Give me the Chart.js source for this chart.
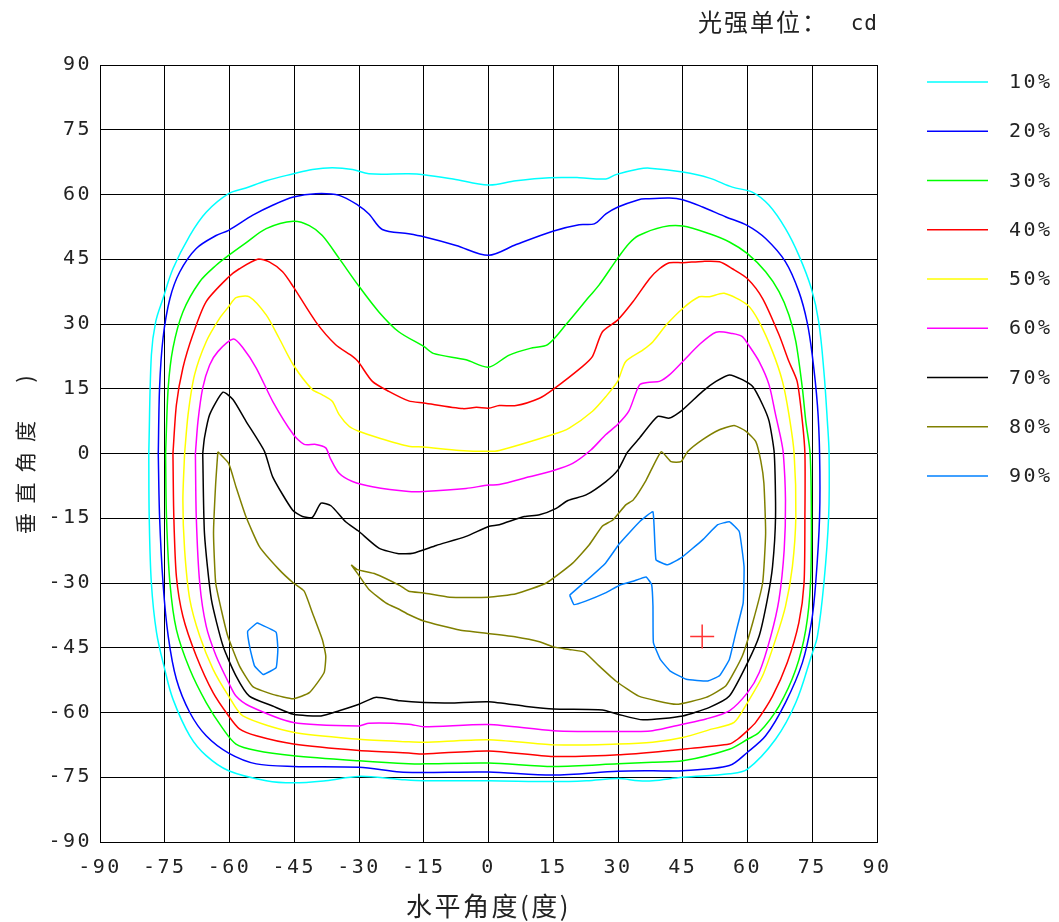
<!DOCTYPE html>
<html><head><meta charset="utf-8">
<script src="https://cdn.jsdelivr.net/npm/chart.js@4.4.1/dist/chart.umd.min.js"></script>
<style>html,body{margin:0;padding:0;background:#fff;}canvas{display:block;}</style>
</head><body>
<canvas id="c" width="1059" height="922" style="width:1059px;height:922px"></canvas>
<script>
const levelLabels = ['10%','20%','30%','40%','50%','60%','70%','80%','90%'];
const levelColors = ['#00ffff','#0000ff','#00ff00','#ff0000','#ffff00','#ff00ff','#000000','#808000','#0080ff'];
const axisTicks = [-90,-75,-60,-45,-30,-15,0,15,30,45,60,75,90];

const c10 = [[-78.7,0],[-78.1,22.8],[-77.1,30.5],[-75.4,35.9],[-73.1,42.8],[-69.2,50.5],[-65.4,55.9],[-60.2,60.2],[-56.2,61.5],[-51.5,63.2],[-45.2,64.8],[-40.8,65.8],[-36.2,66.2],[-31.5,65.8],[-27.7,64.8],[-18.5,64.8],[-15,64.6],[-8.2,63.6],[0,62.2],[6.4,63.2],[14.1,63.9],[21,63.9],[27.2,63.6],[29.5,64.6],[34.8,65.9],[37.3,66.1],[45,65.2],[51.2,63.8],[56.5,61.7],[61.2,60.5],[65,57.5],[68.8,52.1],[71.9,45.9],[74.8,38.2],[76.5,30.5],[77.7,19],[78.5,7.5],[78.9,0],[78.8,-14.6],[77.7,-30],[76.2,-42.3],[74.8,-46.9],[71.2,-57.7],[66.5,-66.2],[60,-73.1],[55.8,-74.2],[45,-75],[38,-75.8],[34.8,-75.8],[30,-75.3],[22.7,-75.8],[15,-76],[0,-75.8],[-15,-75.8],[-20.5,-75.5],[-30,-74.8],[-37.7,-75.8],[-45.2,-76.3],[-51.5,-75.8],[-60.2,-73.5],[-65.4,-70],[-69.2,-65.4],[-73.1,-56.9],[-75,-50],[-76.9,-41.5],[-78.1,-30],[-78.6,-14.6],[-78.7,0]];
const c20 = [[-76.5,0],[-76.2,15.2],[-75.4,26.7],[-73.8,35.9],[-71.5,42.1],[-67.7,47.5],[-63.1,50.5],[-60.2,51.7],[-54.6,55.2],[-50,57.5],[-45.2,59.4],[-40,60.2],[-34.6,59.8],[-30.2,57.5],[-27.7,55.5],[-24.6,51.9],[-18.5,50.9],[-15,50.2],[-7.5,48.2],[0,45.9],[6.4,48.4],[14.9,51.5],[21,53],[24.5,53.2],[27.2,55.5],[30,57.1],[34.8,58.8],[36.5,59],[41.9,59.2],[45,58.8],[49.6,57.1],[55,54.8],[60,52.8],[64.2,49.8],[68.8,44.4],[71.9,37.5],[73.8,30.5],[75,22.8],[76.2,11.2],[76.7,0],[76.7,-14.6],[75.8,-30],[74.8,-39.2],[72.7,-48.5],[68.8,-57.7],[64.2,-65.4],[60,-69.2],[55.8,-72.3],[45,-73.5],[38,-73.5],[30,-73.6],[15,-74.5],[0,-73.8],[-15,-73.9],[-20.5,-73.8],[-30,-72.7],[-45.2,-72.5],[-53.8,-71.9],[-60.2,-69.4],[-65.4,-65.4],[-69.2,-60],[-72.3,-52.3],[-74.2,-42.3],[-75.4,-30],[-76.2,-14.6],[-76.5,0]];
const c30 = [[-74.8,0],[-74.2,15.2],[-73.1,24.4],[-70.8,32.8],[-66.9,39.8],[-63.1,43.6],[-60.2,45.9],[-56.2,48.8],[-51.5,52.1],[-45.2,53.8],[-41.5,52.8],[-38.5,50.5],[-34.6,45.2],[-30.2,39],[-25.4,32.8],[-20.8,28.2],[-15,24.8],[-12.8,23.2],[-5.2,21.7],[0,20],[4.8,22.8],[10.2,24.5],[13.7,25.2],[17.9,29.8],[23.3,36.3],[25.6,39],[29.9,45.2],[32.5,48.6],[34.8,50.5],[40.4,52.5],[45,52.7],[51.2,50.9],[55.8,49],[60,46.3],[64.2,42.1],[67.3,37.5],[69.6,32.1],[71.2,25.9],[72.7,15.2],[73.5,7.5],[74.5,0],[74.8,-14.6],[74.6,-30],[73.5,-40.8],[71.2,-50],[67.3,-58.5],[62.7,-64.6],[60,-66.2],[55.8,-68.5],[45,-71.2],[38,-71.5],[30,-71.9],[15,-72.5],[0,-71.7],[-15,-71.9],[-18.5,-71.9],[-30,-71.2],[-45.2,-70],[-53.8,-68.8],[-58.5,-67.3],[-61.5,-63.8],[-65.4,-57.7],[-69.2,-50],[-72.3,-40.8],[-73.8,-30],[-74.6,-14.6],[-74.8,0]];
const c40 = [[-73.1,0],[-72.3,11.3],[-70.8,19.8],[-68.5,27.5],[-65.4,35.2],[-60.2,40.9],[-57.7,42.8],[-53.5,45],[-50.8,44.4],[-47.7,42.1],[-45.2,38.6],[-40,30.5],[-35.4,25.2],[-31.5,22.5],[-30.2,21.3],[-26.9,16.7],[-23.1,14.4],[-18.5,12.2],[-15,11.7],[-5.9,10.4],[-2.8,10.7],[0,10.5],[2.5,11.1],[6.4,11.1],[11.8,12.8],[14.9,14.8],[21.8,20.2],[24.1,22.5],[26.4,28.2],[29.9,30.9],[33.5,35.2],[37.3,40.5],[39.6,42.8],[41.9,44.2],[45,44.2],[49.6,44.5],[53.5,44.4],[56.5,42.8],[60,40.5],[63.5,35.9],[67.3,27.5],[69.6,21.3],[71.5,16.7],[72.7,7.5],[73.3,0],[73.3,-14.6],[73.1,-30],[71.9,-39.2],[69.2,-48.5],[65.8,-56.2],[61.9,-62.3],[60,-64.2],[57.7,-66.2],[55.8,-67.3],[45,-68.5],[38,-69.2],[30,-69.8],[15,-70.2],[0,-68.9],[-15,-69.6],[-18.5,-69.4],[-30,-68.8],[-45.2,-67.3],[-53.8,-65.4],[-57.7,-63.8],[-60.2,-60.8],[-63.8,-55.4],[-67.7,-46.9],[-70.8,-37.7],[-72.3,-28.5],[-72.9,-14.6],[-73.1,0]];
const c50 = [[-70.4,0],[-69.6,9],[-68.1,18.2],[-65.4,25.9],[-62.3,31.3],[-60.2,34],[-58.5,36.1],[-55.4,36.3],[-51.5,32.1],[-48.5,26.7],[-45.2,20.5],[-40.8,14.8],[-38.5,13.6],[-36.2,12.1],[-34.6,9],[-32.3,6.3],[-30.2,5.2],[-25.4,3.6],[-18.5,1.7],[-15,1.5],[-6.7,0.7],[0,0.5],[2.5,0.7],[14.9,4.4],[18.7,5.9],[24.1,9.8],[27.2,13.2],[29.9,16.7],[31.8,21.3],[35.8,24],[38.1,25.9],[41.2,29.8],[45,33.6],[48.8,36.3],[51.2,36.3],[54.6,37.1],[60,34.4],[62.7,30.5],[65.8,23.6],[68.1,16.7],[69.6,9],[70.8,0],[71.2,-14.6],[70.4,-26.2],[68.8,-35.4],[66.5,-43.1],[63.5,-51.5],[60,-57.7],[56.9,-62.3],[51.9,-63.8],[45,-65.8],[38,-66.9],[30,-67.3],[15,-67.5],[0,-66.3],[-15,-66.9],[-18.5,-66.8],[-30,-66.2],[-45.2,-64.6],[-56.9,-60.8],[-60.2,-56.2],[-63.8,-50],[-66.9,-42.3],[-69.2,-33.8],[-70.4,-22.3],[-70.8,-10.8],[-70.4,0]];
const c60 = [[-67.9,0],[-67.3,7.5],[-66.2,15.2],[-64.6,20.5],[-62.7,23.6],[-59.1,26.5],[-56.9,24.5],[-53.8,19.8],[-50,12.1],[-45.2,4.4],[-42.7,2.1],[-40,2.1],[-37.7,1.3],[-36.7,-1],[-34.6,-4.6],[-31.5,-6.5],[-26.9,-7.7],[-18.5,-8.8],[-15,-8.8],[-5.2,-8.1],[0,-7.3],[2.5,-7.2],[9.5,-5.4],[14.9,-4],[19.5,-2.3],[23.7,0.8],[27.2,4.4],[29.9,6.7],[32.5,9.8],[35,15.9],[37.3,16.5],[39.6,16.7],[41.9,18.2],[45,21.3],[48.8,25.2],[52.7,28.1],[56.5,27.8],[58.8,27.1],[60,25.5],[62.7,21.3],[65,15.9],[66.5,9],[67.7,3.6],[68.3,0],[68.8,-10.8],[68.5,-22.3],[67.3,-33.8],[65.4,-42.3],[62.7,-50.8],[60,-55.4],[55.8,-59.6],[50.4,-61.5],[45,-62.7],[38,-64.2],[30,-64.4],[15,-64.2],[0,-62.8],[-15,-63.3],[-18.5,-62.7],[-27.7,-62.5],[-30,-63.1],[-45.2,-62.3],[-55.4,-58.5],[-58.5,-56.2],[-60.2,-53.1],[-63.1,-46.9],[-65.4,-40],[-66.9,-30],[-67.7,-14.6],[-67.9,0]];
const c70 = [[-66.2,0],[-65.8,3.6],[-64.6,9],[-61.5,14.2],[-59.2,12.5],[-56.2,7.5],[-51.9,0.5],[-50,-5.4],[-45.4,-13.1],[-43.1,-14.6],[-40.8,-14.8],[-38.8,-11.5],[-36.5,-12.1],[-33.1,-15.8],[-30.2,-17.9],[-25.4,-21.9],[-20.8,-23.2],[-17.5,-23.1],[-12.1,-21.3],[-5.2,-19.2],[0,-16.9],[2.5,-16.5],[8.3,-14.6],[11.8,-14.2],[15.7,-12.7],[18.4,-10.9],[22.6,-9.6],[27.2,-6.5],[30,-3.8],[32.2,0.3],[35,3.6],[39.2,8.6],[41.9,8.2],[44.6,9.8],[49.6,14.4],[52.7,16.7],[55.8,18.2],[58.8,17.1],[61.2,15.5],[63.5,11.3],[65,7.5],[66.2,0],[66.5,-14.6],[65.8,-26.2],[64.6,-33.8],[62.7,-42.3],[60,-48.5],[55.8,-56.2],[51.2,-58.8],[45,-60.8],[35.8,-61.7],[30,-60.4],[26.4,-59.4],[15,-59.2],[8.8,-58.6],[0,-57.5],[-9,-57.8],[-15,-57.7],[-20.5,-57.3],[-26.2,-56.5],[-30,-58.1],[-34.6,-59.6],[-38.8,-60.8],[-45.2,-60.4],[-50,-58.5],[-55.4,-56.2],[-58.5,-51.5],[-61.5,-44.6],[-64.2,-33.8],[-65.8,-18.5],[-66.2,0]];
const c80a = [[-62.7,0.4],[-60.2,-2.3],[-58.5,-7.7],[-56.2,-14.6],[-53.1,-21.5],[-48.5,-26.9],[-45.2,-30],[-42.7,-31.9],[-40.8,-36.9],[-38.5,-43.1],[-37.7,-46.9],[-38.1,-50.8],[-41.5,-55.4],[-45.2,-56.8],[-50,-55.8],[-54.6,-54],[-57.7,-49.2],[-60.4,-42.3],[-61.9,-36.2],[-63.2,-30],[-63.7,-18.5],[-63.2,-6.9],[-62.7,0.4]];
const c80b = [[-31.8,-25.8],[-30.4,-26.9],[-26.2,-27.9],[-20.5,-30.6],[-18.5,-31.9],[-15,-32.3],[-9,-33.3],[0,-33.3],[6.4,-32.5],[13.4,-30],[19.5,-25.4],[23.3,-21.2],[26.4,-16.8],[28.8,-15.4],[31.8,-11.9],[33.5,-10.8],[36.5,-6.2],[40,0.4],[42.3,-1.9],[44.6,-1.9],[46.2,0.5],[49.6,3.2],[53.5,5.5],[56.9,6.5],[59.6,5.2],[61.9,2.8],[63.1,-1.8],[63.8,-6.9],[64.2,-18.5],[63.5,-30],[61.2,-39.2],[58.8,-46.9],[55,-53.8],[50.4,-56.5],[43.5,-58.1],[34.8,-56.2],[29.5,-52.7],[25.6,-49.2],[22.2,-46],[18.7,-45.4],[15,-44.8],[11.8,-43.6],[6.4,-42.5],[0,-41.7],[-6.7,-40.9],[-15,-38.8],[-18.5,-37.3],[-20.5,-36.2],[-23.8,-34.6],[-27.7,-31.5],[-30.4,-27.7],[-31.8,-25.8]];
const c90a = [[-53.6,-39.2],[-49.2,-41.4],[-48.8,-45.4],[-49.2,-49.6],[-52.2,-51.2],[-54.2,-49.2],[-55.2,-45.4],[-55.8,-41.2],[-53.6,-39.2]];
const c90b = [[18.8,-32.8],[19.8,-35],[22.5,-34.2],[27.1,-32.3],[30.6,-30.4],[33.5,-29.6],[36.5,-28.6],[37.8,-30.4],[38.1,-35.4],[38.2,-43.8],[39.8,-47.7],[42.1,-50.4],[45.8,-52.3],[50.8,-52.7],[53.5,-51.5],[55.8,-47.7],[57.3,-41.5],[59,-34.6],[59.2,-26.2],[58.1,-18.1],[55.8,-15.8],[53.1,-16.5],[49.6,-20],[44.6,-24.2],[41.5,-25.8],[38.8,-24.6],[38.1,-13.5],[35,-15.8],[30.4,-20.8],[27.1,-25.4],[22.5,-29.6],[18.8,-32.8]];
const maxPoint = [[49.5,-42.4]];

const levelPaths = [[c10],[c20],[c30],[c40],[c50],[c60],[c70],[c80a,c80b],[c90a,c90b]];
const levelTension = [0.35,0.3,0.3,0.25,0.25,0.25,0.2,0.15,0.1];

function toPoints(segs){
  const out = [];
  segs.forEach((s,i)=>{
    if(i>0) out.push({x:null,y:null});
    s.forEach(p=>out.push({x:p[0],y:p[1]}));
  });
  return out;
}

const datasets = levelPaths.map((segs,i)=>({
  label: levelLabels[i],
  data: toPoints(segs),
  showLine: true,
  borderColor: levelColors[i],
  backgroundColor: levelColors[i],
  borderWidth: 1.5,
  pointRadius: 0,
  tension: levelTension[i],
  spanGaps: false,
  fill: false
}));
datasets.push({
  label: '',
  data: maxPoint.map(p=>({x:p[0],y:p[1]})),
  showLine: false,
  pointStyle: 'cross',
  pointRadius: 12,
  borderColor: '#ff3333',
  borderWidth: 1.5,
  isMarker: true
});

const SPACING = '2.5px';
const monoFont = '"DejaVu Sans Mono", "Liberation Mono", monospace';
const cjkFont = '"Noto Sans CJK SC", "Noto Sans", sans-serif';

const extras = {
  id: 'extras',
  beforeLayout(chart){ chart.ctx.letterSpacing = SPACING; },
  beforeDraw(chart){
    const ctx = chart.ctx;
    ctx.letterSpacing = SPACING;
    ctx.save();
    ctx.fillStyle = '#fff';
    ctx.fillRect(0,0,chart.width,chart.height);
    ctx.restore();
  },
  afterDraw(chart){
    const ctx = chart.ctx;
    ctx.save();
    const ds = chart.data.datasets.filter(d=>!d.isMarker);
    ds.forEach((d,i)=>{
      const y = 82 + i*49.25;
      ctx.strokeStyle = d.borderColor;
      ctx.lineWidth = 1.5;
      ctx.beginPath();
      ctx.moveTo(927, y);
      ctx.lineTo(988, y);
      ctx.stroke();
      ctx.fillStyle = '#222';
      ctx.font = '20px ' + monoFont;
      ctx.letterSpacing = SPACING;
      ctx.textAlign = 'left';
      ctx.textBaseline = 'middle';
      ctx.fillText(d.label, 1009, y + 1);
    });
    ctx.fillStyle = '#222';
    ctx.textBaseline = 'middle';
    ctx.textAlign = 'right';
    ctx.font = '21px ' + monoFont;
    ctx.letterSpacing = '1px';
    ctx.fillText('cd', 878, 25);
    ctx.textAlign = 'left';
    ctx.font = '24px ' + cjkFont;
    ctx.letterSpacing = '2px';
    ctx.fillText('光强单位：', 698, 22);
    ctx.restore();
  }
};

new Chart(document.getElementById('c'), {
  type: 'scatter',
  data: { datasets },
  options: {
    responsive: false,
    animation: false,
    devicePixelRatio: 1,
    layout: { padding: { left: 0, top: 65, right: 182, bottom: 0 } },
    plugins: { legend: { display: false }, tooltip: { enabled: false }, title: { display: false } },
    scales: {
      x: {
        type: 'linear', min: -90, max: 90,
        afterBuildTicks(s){ s.ticks = axisTicks.map(v=>({value:v})); },
        ticks: { autoSkip: false, maxRotation: 0, padding: 14, color: '#222', font: { family: monoFont, size: 20 } },
        grid: { color: '#000', lineWidth: 1, drawTicks: false },
        border: { color: '#000', width: 1 },
        title: { display: true, text: '水平角度(度)', color: '#222', font: { family: cjkFont, size: 26 }, padding: { top: 0, bottom: 0 } },
        afterFit(s){ s.height = 80; }
      },
      y: {
        type: 'linear', min: -90, max: 90,
        afterBuildTicks(s){ s.ticks = axisTicks.map(v=>({value:v})); },
        ticks: { autoSkip: false, padding: 8, color: '#222', font: { family: monoFont, size: 20 } },
        grid: { color: '#000', lineWidth: 1, drawTicks: false },
        border: { color: '#000', width: 1 },
        title: { display: true, text: '垂 直 角 度     )', color: '#222', font: { family: cjkFont, size: 21 }, padding: { top: 12, bottom: 0 } },
        afterFit(s){ s.width = 100; }
      }
    }
  },
  plugins: [extras]
});
</script>
</body></html>
